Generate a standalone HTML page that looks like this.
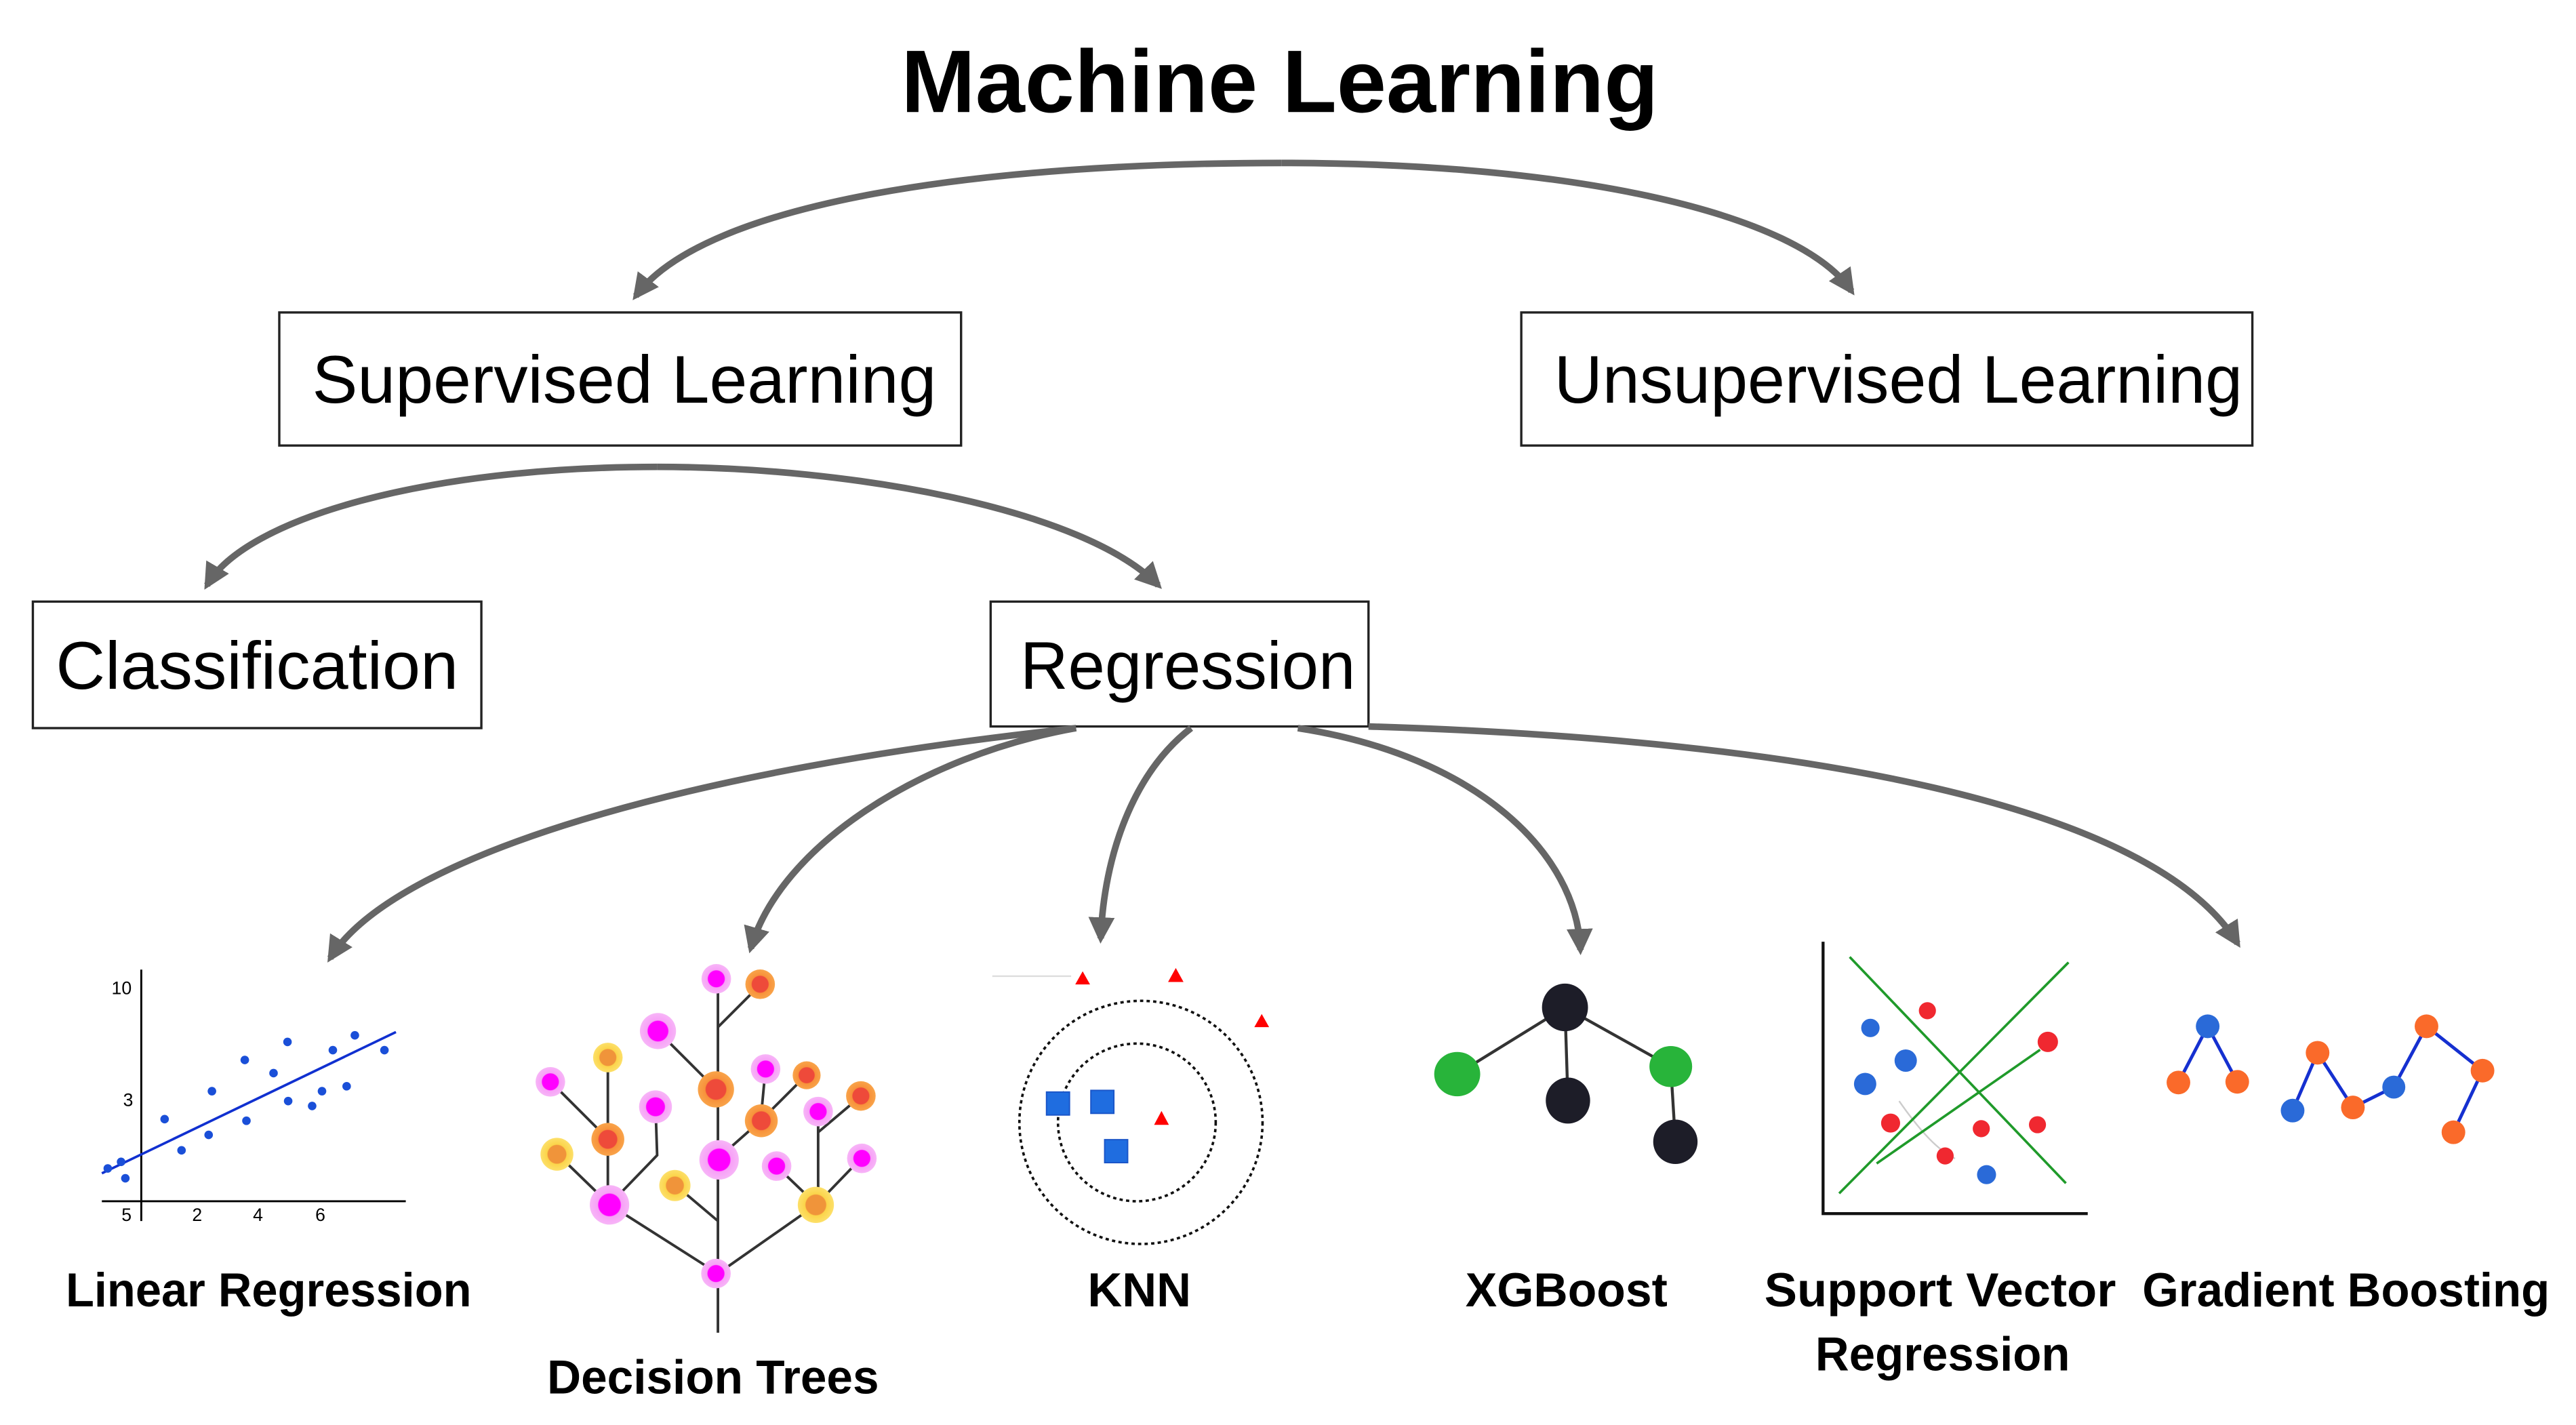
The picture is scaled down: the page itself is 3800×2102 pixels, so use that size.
<!DOCTYPE html>
<html><head><meta charset="utf-8"><style>
html,body{margin:0;padding:0;background:#fff;}
svg{display:block;}
text{font-family:"Liberation Sans",sans-serif;fill:#000;}
</style></head><body>
<svg width="3800" height="2102" viewBox="0 0 1568 867" xmlns="http://www.w3.org/2000/svg">
<defs>
<marker id="ah" viewBox="0 0 10 10" refX="8" refY="5" markerWidth="4" markerHeight="4" orient="auto-start-reverse" markerUnits="strokeWidth">
<path d="M0,0 L10,5 L0,10 z" fill="#666"/>
</marker>
<radialGradient id="gm"><stop offset="0.55" stop-color="#f0f"/><stop offset="0.6" stop-color="#f7a0f7"/><stop offset="1" stop-color="#f7b5f7"/></radialGradient>
<radialGradient id="go"><stop offset="0.55" stop-color="#ee4a3a"/><stop offset="0.6" stop-color="#f7913a"/><stop offset="1" stop-color="#f9a44a"/></radialGradient>
<radialGradient id="gy"><stop offset="0.55" stop-color="#f0943a"/><stop offset="0.6" stop-color="#fbd44a"/><stop offset="1" stop-color="#fde06a"/></radialGradient>
</defs>
<rect width="1568" height="867" fill="#fff"/>

<text x="779" y="68" font-size="54" font-weight="bold" text-anchor="middle" textLength="461" lengthAdjust="spacingAndGlyphs">Machine Learning</text>

<g fill="#fff" stroke="#222" stroke-width="1.4">
<rect x="170" y="190" width="415" height="81"/>
<rect x="926" y="190" width="445" height="81"/>
<rect x="20" y="366" width="273" height="77"/>
<rect x="603" y="366" width="230" height="76"/>
</g>
<g font-size="41">
<text x="190" y="245" textLength="380" lengthAdjust="spacingAndGlyphs">Supervised Learning</text>
<text x="946" y="245" textLength="419" lengthAdjust="spacingAndGlyphs">Unsupervised Learning</text>
<text x="34" y="419" textLength="245" lengthAdjust="spacingAndGlyphs">Classification</text>
<text x="621" y="419" textLength="204" lengthAdjust="spacingAndGlyphs">Regression</text>
</g>

<g fill="none" stroke="#666" stroke-width="4" marker-end="url(#ah)">
<path d="M780,99 C600,99 430,122 387,180"/>
<path d="M780,99 C960,99 1095,130 1127,177"/>
<path d="M400,284 C260,284 150,315 126,356"/>
<path d="M400,284 C520,284 660,310 705,356"/>
<path d="M655,443 C420,468 240,520 201,583"/>
<path d="M655,443 C560,460 475,515 457,577"/>
<path d="M725,443 C690,470 672,520 670,571"/>
<path d="M790,443 C900,460 960,520 962,578"/>
<path d="M833,442 C1100,450 1310,490 1362,574"/>
</g>

<!-- Linear regression -->
<g>
<line x1="86" y1="590" x2="86" y2="743" stroke="#000" stroke-width="1.2"/>
<line x1="62" y1="731" x2="247" y2="731" stroke="#000" stroke-width="1.2"/>
<g font-size="11" text-anchor="middle">
<text x="74" y="605">10</text><text x="78" y="673">3</text>
<text x="77" y="743">5</text><text x="120" y="743">2</text><text x="157" y="743">4</text><text x="195" y="743">6</text>
</g>
<line x1="62" y1="714" x2="241" y2="628" stroke="#1030d0" stroke-width="1.5"/>
<g fill="#1a4fd8">
<circle cx="65.6" cy="711" r="2.6"/><circle cx="73.7" cy="707" r="2.6"/><circle cx="76.3" cy="717" r="2.6"/>
<circle cx="100.2" cy="681" r="2.6"/><circle cx="110.5" cy="700" r="2.6"/><circle cx="127" cy="690.6" r="2.6"/>
<circle cx="129" cy="664" r="2.6"/><circle cx="149" cy="645" r="2.6"/><circle cx="150" cy="682" r="2.6"/>
<circle cx="166.5" cy="653" r="2.6"/><circle cx="175" cy="634" r="2.6"/><circle cx="175.4" cy="670" r="2.6"/>
<circle cx="190" cy="673" r="2.6"/><circle cx="196" cy="664" r="2.6"/><circle cx="202.6" cy="639" r="2.6"/>
<circle cx="211" cy="661" r="2.6"/><circle cx="216" cy="630" r="2.6"/><circle cx="234" cy="639" r="2.6"/>
</g>
</g>

<!-- Decision tree -->
<g stroke="#333" stroke-width="1.6" fill="none">
<line x1="437" y1="595" x2="437" y2="811"/>
<line x1="437" y1="775" x2="371" y2="733"/><line x1="437" y1="775" x2="497" y2="733"/>
<line x1="371" y1="733" x2="339" y2="702"/><line x1="370" y1="733" x2="370" y2="643"/>
<polyline points="371,733 400,703 399,673"/>
<line x1="437" y1="625" x2="463" y2="599"/>
<line x1="400" y1="627" x2="436" y2="663"/>
<line x1="335" y1="658" x2="370" y2="693"/>
<polyline points="437,705 463,682 491,654"/>
<line x1="466" y1="650" x2="463" y2="682"/>
<line x1="437" y1="743" x2="411" y2="721"/>
<line x1="497" y1="733" x2="473" y2="710"/>
<line x1="497" y1="733" x2="524" y2="705"/>
<line x1="498" y1="733" x2="498" y2="676"/>
<line x1="498" y1="689" x2="524" y2="667"/>
</g>
<g>
<circle cx="436" cy="595.6" r="9" fill="url(#gm)"/>
<circle cx="462.7" cy="598.9" r="9" fill="url(#go)"/>
<circle cx="400.5" cy="627.4" r="11" fill="url(#gm)"/>
<circle cx="370" cy="643.5" r="9" fill="url(#gy)"/>
<circle cx="335" cy="658.3" r="9" fill="url(#gm)"/>
<circle cx="435.8" cy="662.9" r="11" fill="url(#go)"/>
<circle cx="466" cy="650.5" r="9" fill="url(#gm)"/>
<circle cx="491" cy="654.3" r="8.5" fill="url(#go)"/>
<circle cx="399" cy="673.5" r="10" fill="url(#gm)"/>
<circle cx="463.4" cy="682" r="10" fill="url(#go)"/>
<circle cx="498" cy="676.4" r="9" fill="url(#gm)"/>
<circle cx="524" cy="666.9" r="9" fill="url(#go)"/>
<circle cx="370" cy="693.3" r="10" fill="url(#go)"/>
<circle cx="339" cy="702.4" r="10" fill="url(#gy)"/>
<circle cx="437.7" cy="705.8" r="12" fill="url(#gm)"/>
<circle cx="472.7" cy="709.6" r="9" fill="url(#gm)"/>
<circle cx="524.6" cy="704.9" r="9" fill="url(#gm)"/>
<circle cx="410.8" cy="721.4" r="9.5" fill="url(#gy)"/>
<circle cx="371" cy="733.2" r="12" fill="url(#gm)"/>
<circle cx="496.6" cy="733.2" r="11" fill="url(#gy)"/>
<circle cx="435.8" cy="775" r="9" fill="url(#gm)"/>
</g>

<!-- KNN -->
<g>
<line x1="604" y1="594" x2="652" y2="594" stroke="#ddd" stroke-width="1"/>
<ellipse cx="694.5" cy="683" rx="74" ry="74" fill="none" stroke="#111" stroke-width="1.5" stroke-dasharray="2,2"/>
<ellipse cx="692" cy="683" rx="48" ry="48" fill="none" stroke="#111" stroke-width="1.5" stroke-dasharray="2,2"/>
<g fill="#f00">
<polygon points="659,591 654.5,599 663.5,599"/>
<polygon points="715.7,589 711,597.5 720.4,597.5"/>
<polygon points="768,617 763.5,625 772.5,625"/>
<polygon points="707,676 702.5,684.5 711.5,684.5"/>
</g>
<g fill="#1f6de0" stroke="#1a55c8" stroke-width="0.8">
<rect x="637" y="664.5" width="14" height="14"/>
<rect x="664" y="663.5" width="14" height="14"/>
<rect x="672.4" y="693.5" width="14" height="14"/>
</g>
</g>

<!-- XGBoost -->
<g>
<g stroke="#333" stroke-width="1.8">
<line x1="952.6" y1="613" x2="887" y2="653.6"/>
<line x1="952.6" y1="613" x2="954.4" y2="669.7"/>
<line x1="952.6" y1="613" x2="1017" y2="649"/>
<line x1="1017" y1="649" x2="1019.8" y2="694.8"/>
</g>
<ellipse cx="952.6" cy="613" rx="14" ry="14.5" fill="#1d1d28"/>
<ellipse cx="887" cy="653.6" rx="14" ry="13.5" fill="#28b43a"/>
<ellipse cx="954.4" cy="669.7" rx="13.5" ry="14" fill="#1d1d28"/>
<ellipse cx="1017" cy="649" rx="13" ry="12.5" fill="#28b43a"/>
<ellipse cx="1019.8" cy="694.8" rx="13.5" ry="13.5" fill="#1d1d28"/>
</g>

<!-- SVR -->
<g>
<polyline points="1109.7,573 1109.7,738.5 1270.8,738.5" fill="none" stroke="#111" stroke-width="1.8"/>
<path d="M1156,670 C1170,690 1180,700 1190,705" stroke="#ccc" stroke-width="1" fill="none"/>
<g stroke="#1f9a2a" stroke-width="1.5">
<line x1="1125.9" y1="582.3" x2="1257.5" y2="720"/>
<line x1="1119.5" y1="726.2" x2="1259.1" y2="585.6"/>
<line x1="1142.3" y1="708" x2="1241.8" y2="638.8"/>
</g>
<g fill="#f02830">
<circle cx="1173.2" cy="615" r="5.2"/><circle cx="1246.5" cy="634" r="6.2"/><circle cx="1150.8" cy="683.4" r="5.8"/>
<circle cx="1206" cy="686.8" r="5.2"/><circle cx="1240.2" cy="684.4" r="5.2"/><circle cx="1184" cy="703.4" r="5.2"/>
</g>
<g fill="#2a6ad8">
<circle cx="1138.5" cy="625.5" r="5.6"/><circle cx="1160" cy="645.4" r="6.8"/><circle cx="1135.3" cy="659.6" r="6.8"/>
<circle cx="1209.2" cy="714.8" r="5.8"/>
</g>
</g>

<!-- Gradient boosting -->
<g>
<g stroke="#1530d0" stroke-width="2" fill="none">
<line x1="1343.8" y1="624.5" x2="1326" y2="658.7"/>
<line x1="1343.8" y1="624.5" x2="1361.8" y2="658.3"/>
<polyline points="1395.5,675.8 1410.7,640.6 1432.2,673.9 1457.1,661.5 1477,624.5 1511.1,651.5 1493.4,689"/>
</g>
<g fill="#2a6ad8">
<circle cx="1343.8" cy="624.5" r="7.2"/><circle cx="1395.5" cy="675.8" r="7.2"/><circle cx="1457.1" cy="661.5" r="7"/>
</g>
<g fill="#fa6a2a">
<circle cx="1326" cy="658.7" r="7.2"/><circle cx="1361.8" cy="658.3" r="7.2"/><circle cx="1410.7" cy="640.6" r="7.2"/>
<circle cx="1432.2" cy="673.9" r="7.2"/><circle cx="1477" cy="624.5" r="7.2"/><circle cx="1511.1" cy="651.5" r="7.2"/>
<circle cx="1493.4" cy="689" r="7.2"/>
</g>
</g>

<g font-size="29" font-weight="bold">
<text x="40" y="795" textLength="247" lengthAdjust="spacingAndGlyphs">Linear Regression</text>
<text x="333" y="848" textLength="202" lengthAdjust="spacingAndGlyphs">Decision Trees</text>
<text x="662" y="795" textLength="63" lengthAdjust="spacingAndGlyphs">KNN</text>
<text x="892" y="795" textLength="123" lengthAdjust="spacingAndGlyphs">XGBoost</text>
<text x="1074" y="795" textLength="214" lengthAdjust="spacingAndGlyphs">Support Vector</text>
<text x="1105" y="834" textLength="155" lengthAdjust="spacingAndGlyphs">Regression</text>
<text x="1304" y="795" textLength="248" lengthAdjust="spacingAndGlyphs">Gradient Boosting</text>
</g>
</svg>
</body></html>
